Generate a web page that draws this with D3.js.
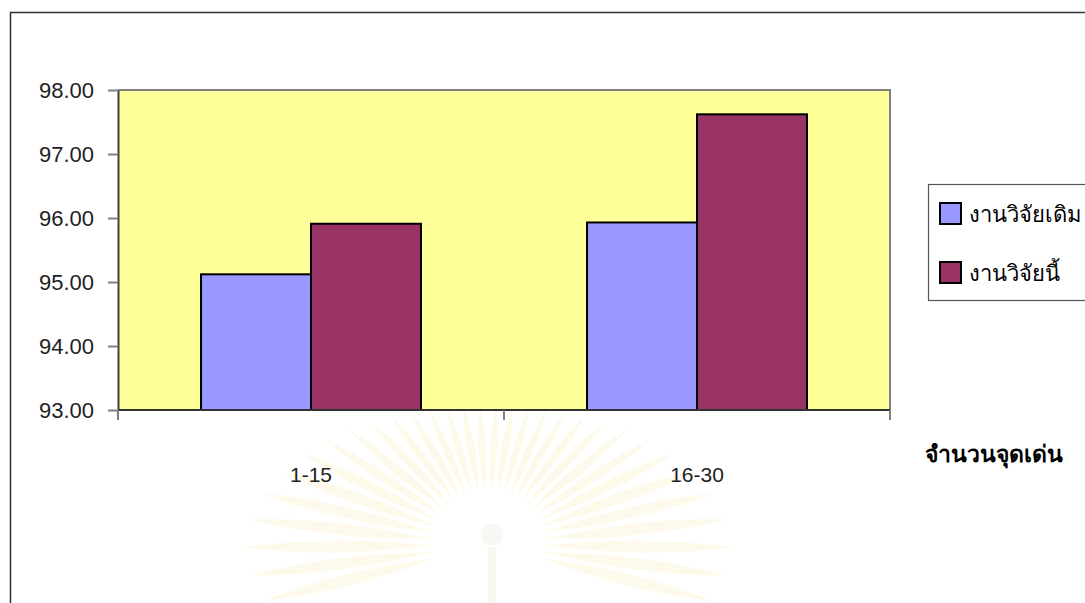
<!DOCTYPE html>
<html>
<head>
<meta charset="utf-8">
<script src="https://cdn.jsdelivr.net/npm/d3@7"></script>
<style>
  html, body { margin: 0; padding: 0; background: #ffffff; }
  svg { display: block; }
</style>
</head>
<body>
<svg id="chart" width="1085" height="603"></svg>
<script>
// Data
const categories = ["1-15", "16-30"];
const seriesNames = ["งานวิจัยเดิม", "งานวิจัยนี้"];
const seriesOld = [95.12, 95.93];   // งานวิจัยเดิม
const seriesNew = [95.91, 97.62];   // งานวิจัยนี้
const yTicks = [93, 94, 95, 96, 97, 98];
const xTitle = "จำนวนจุดเด่น";

const seriesValues = [seriesOld, seriesNew];
const colors = ["#9999ff", "#993366"];

const svg = d3.select("#chart");
const W = 1085, H = 603;

// Plot area
const plot = { left: 118, right: 890, top: 90, bottom: 410 };

// Faint emblem in the page background
(function drawEmblem() {
  const cx = 488, cy = 545, rx = 245, ry = 140, r0 = 56;
  const g = svg.append("g").attr("class", "emblem");
  const n = 32;
  const a0 = -14 * Math.PI / 180, a1 = 194 * Math.PI / 180;
  const half = (a1 - a0) / (n - 1) * 0.62;
  const pt = (r, a) => [cx + Math.cos(a) * r, cy - Math.sin(a) * r];
  for (let i = 0; i < n; i++) {
    const a = a0 + (a1 - a0) * i / (n - 1);
    const len = (rx * ry) / Math.hypot(ry * Math.cos(a), rx * Math.sin(a));
    const p0 = pt(r0, a);
    const pm1 = pt(r0 + (len - r0) * 0.55, a + half);
    const pm2 = pt(r0 + (len - r0) * 0.55, a - half);
    const p1 = pt(len, a);
    g.append("path")
      .attr("d", `M${p0}Q${pm1} ${p1}Q${pm2} ${p0}Z`)
      .attr("fill", "#fdf9e8")
      .attr("fill-opacity", 0.85);
  }
  g.append("circle").attr("cx", cx).attr("cy", cy - 2).attr("r", r0 - 3).attr("fill", "#ffffff");
  g.append("circle").attr("cx", cx + 4).attr("cy", cy - 10).attr("r", 11)
    .attr("fill", "#f9f7f2");
  g.append("rect").attr("x", cx).attr("y", cy + 2).attr("width", 8).attr("height", 60)
    .attr("fill", "#f9f7f2");
})();

// Outer frame of the chart
svg.append("path")
  .attr("d", `M10.5,${H}V12.5H${W}`)
  .attr("fill", "none")
  .attr("stroke", "#333333")
  .attr("stroke-width", 1.5);

// Scales
const x0 = d3.scaleBand().domain(categories).range([plot.left, plot.right]).padding(0);
const x1 = d3.scaleBand().domain(d3.range(seriesNames.length))
  .range([0, x0.bandwidth()]).paddingInner(0).paddingOuter(0.755);
const y = d3.scaleLinear().domain([93, 98]).range([plot.bottom, plot.top]);

// Plot background
svg.append("rect")
  .attr("x", plot.left).attr("y", plot.top)
  .attr("width", plot.right - plot.left).attr("height", plot.bottom - plot.top)
  .attr("fill", "#ffff99");
svg.append("path")
  .attr("d", `M${plot.left},${plot.top}H${plot.right}V${plot.bottom}`)
  .attr("fill", "none").attr("stroke", "#808080").attr("stroke-width", 2);

// Bars
const groups = svg.append("g").selectAll("g")
  .data(categories).join("g")
  .attr("transform", d => `translate(${x0(d)},0)`);
groups.selectAll("rect")
  .data((d, ci) => seriesValues.map((vals, si) => ({ si, v: vals[ci] })))
  .join("rect")
  .attr("x", d => x1(d.si))
  .attr("width", x1.bandwidth())
  .attr("y", d => y(d.v))
  .attr("height", d => y(93) - y(d.v))
  .attr("fill", d => colors[d.si])
  .attr("stroke", "#000000")
  .attr("stroke-width", 2);

// Y axis
const yAxis = svg.append("g")
  .attr("transform", `translate(${plot.left},0)`)
  .call(d3.axisLeft(y).tickValues(yTicks).tickFormat(d3.format(".2f"))
    .tickSize(10).tickPadding(14).tickSizeOuter(0));
yAxis.select(".domain").attr("stroke", "#404040").attr("stroke-width", 2);
yAxis.selectAll(".tick line").attr("stroke", "#808080").attr("stroke-width", 2);
yAxis.selectAll(".tick text")
  .attr("fill", "#222222")
  .style("font-family", "'Liberation Sans', Arial, sans-serif")
  .style("font-size", "22px");

// X axis: ticks at category boundaries
const xAxis = svg.append("g")
  .attr("transform", `translate(0,${plot.bottom})`);
xAxis.append("line")
  .attr("x1", plot.left).attr("x2", plot.right)
  .attr("stroke", "#333333").attr("stroke-width", 2);
const boundaries = categories.map(c => x0(c)).concat([x0(categories[categories.length - 1]) + x0.bandwidth()]);
xAxis.selectAll("line.tk").data(boundaries).join("line")
  .attr("class", "tk")
  .attr("x1", d => d).attr("x2", d => d)
  .attr("y1", 0).attr("y2", 10)
  .attr("stroke", "#808080").attr("stroke-width", 2);
xAxis.selectAll("text").data(categories).join("text")
  .attr("x", d => x0(d) + x0.bandwidth() / 2)
  .attr("y", 64)
  .attr("text-anchor", "middle")
  .attr("dominant-baseline", "central")
  .attr("fill", "#222222")
  .style("font-family", "'Liberation Sans', Arial, sans-serif")
  .style("font-size", "21px")
  .text(d => d);

// Axis title
svg.append("text")
  .attr("x", 994).attr("y", 454)
  .attr("text-anchor", "middle")
  .attr("dominant-baseline", "central")
  .attr("fill", "#000000")
  .style("font-family", "Tahoma, 'DejaVu Sans', sans-serif")
  .style("font-weight", "bold")
  .style("font-size", "23px")
  .text(xTitle);

// Legend
const legend = svg.append("g");
legend.append("rect")
  .attr("x", 928.5).attr("y", 184.5).attr("width", 170).attr("height", 116)
  .attr("fill", "#ffffff").attr("stroke", "#555555").attr("stroke-width", 1.2);
const items = legend.selectAll("g.item").data(seriesNames).join("g")
  .attr("class", "item")
  .attr("transform", (d, i) => `translate(940,${203 + i * 59})`);
items.append("rect")
  .attr("width", 21).attr("height", 21)
  .attr("fill", (d, i) => colors[i])
  .attr("stroke", "#000000").attr("stroke-width", 2);
items.append("text")
  .attr("x", 29).attr("y", 11)
  .attr("dominant-baseline", "central")
  .attr("fill", "#000000")
  .style("font-family", "Tahoma, 'DejaVu Sans', sans-serif")
  .style("font-size", "22px")
  .text(d => d);
</script>
</body>
</html>
